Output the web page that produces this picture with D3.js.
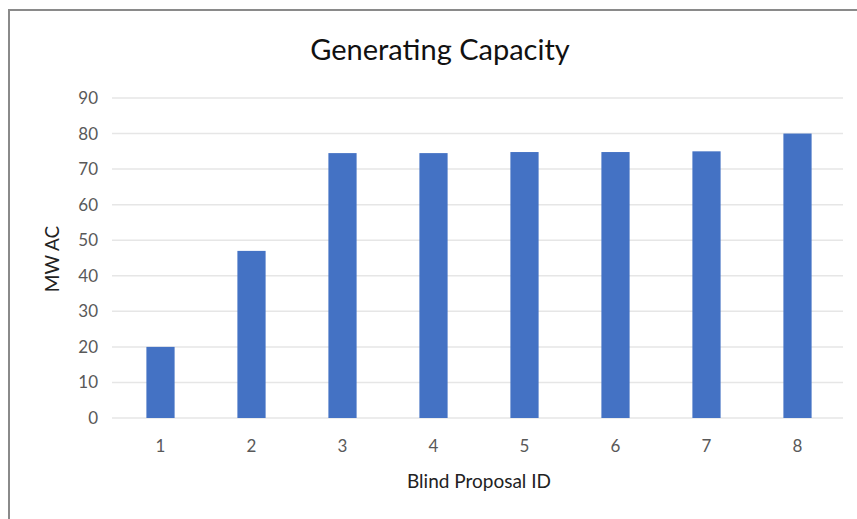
<!DOCTYPE html>
<html>
<head>
<meta charset="utf-8">
<script src="https://cdn.jsdelivr.net/npm/d3@7"></script>
<style>
  body { margin: 0; background: #fff; }
  text { font-family: Lato, "Open Sans", sans-serif; }
</style>
</head>
<body>
<div id="chart"></div>
<script>
// data
var proposals = ["1", "2", "3", "4", "5", "6", "7", "8"];
var capacity = [20, 47, 74.5, 74.5, 74.8, 74.8, 75, 80];
var yTicks = [0, 10, 20, 30, 40, 50, 60, 70, 80, 90];

var W = 857, H = 519;
var margin = {top: 98, right: 14, bottom: 101, left: 115};
var graphW = W - margin.left - margin.right;
var graphH = H - margin.top - margin.bottom;

var svg = d3.select("#chart").append("svg")
  .attr("width", W)
  .attr("height", H);

// frame (only top and left edges visible in the shot)
svg.append("path")
  .attr("d", "M9," + H + "V10H" + W)
  .attr("fill", "none")
  .attr("stroke", "#8a8a8a")
  .attr("stroke-width", 2);

var g = svg.append("g")
  .attr("transform", "translate(" + margin.left + "," + margin.top + ")");

var x = d3.scaleBand()
  .domain(proposals)
  .range([0, graphW])
  .paddingInner(0.69)
  .paddingOuter(0.345);

var y = d3.scaleLinear()
  .domain([0, 90])
  .range([graphH, 0]);

// gridlines
g.append("g")
  .selectAll("line")
  .data(yTicks)
  .enter()
  .append("line")
  .attr("x1", -3)
  .attr("x2", graphW)
  .attr("y1", function(d) { return y(d); })
  .attr("y2", function(d) { return y(d); })
  .attr("stroke", "#e6e6e6")
  .attr("stroke-width", 1.5);

// y tick labels
var yAxis = g.append("g")
  .call(d3.axisLeft(y).tickValues(yTicks).tickSize(0).tickPadding(17));
yAxis.select(".domain").remove();
yAxis.selectAll("text")
  .attr("fill", "#595959")
  .style("font-size", "17px")
  .style("font-family", "Lato, sans-serif");

// bars
g.selectAll("rect.bar")
  .data(capacity)
  .enter()
  .append("rect")
  .attr("class", "bar")
  .attr("x", function(d, i) { return x(proposals[i]); })
  .attr("y", function(d) { return y(d); })
  .attr("width", x.bandwidth())
  .attr("height", function(d) { return graphH - y(d); })
  .attr("fill", "#4472c4");

// x tick labels
var xAxis = g.append("g")
  .attr("transform", "translate(0," + graphH + ")")
  .call(d3.axisBottom(x).tickSize(0).tickPadding(22));
xAxis.select(".domain").remove();
xAxis.selectAll("text")
  .attr("fill", "#595959")
  .style("font-size", "17px")
  .style("font-family", "Lato, sans-serif");

// title
svg.append("text")
  .attr("x", 440)
  .attr("y", 60)
  .attr("text-anchor", "middle")
  .attr("fill", "#111")
  .style("font-size", "29px")
  .text("Generating Capacity");

// axis titles
svg.append("text")
  .attr("x", 479)
  .attr("y", 488)
  .attr("text-anchor", "middle")
  .attr("fill", "#222")
  .style("font-size", "19px")
  .text("Blind Proposal ID");

svg.append("text")
  .attr("transform", "translate(59,259)rotate(-90)")
  .attr("text-anchor", "middle")
  .attr("fill", "#222")
  .style("font-size", "19px")
  .text("MW AC");
</script>
</body>
</html>
